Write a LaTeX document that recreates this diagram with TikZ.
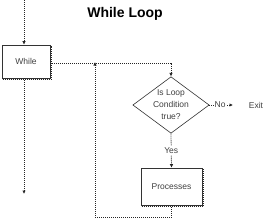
\documentclass[tikz,border=0pt]{standalone}
\usepackage{fontspec}
\setmainfont{Liberation Sans}
\usetikzlibrary{arrows.meta,shapes.geometric}
\begin{document}
\begin{tikzpicture}[x=1pt,y=-1pt,
  conn/.style={line width=0.8pt,dash pattern=on 1pt off 1pt,draw=black!85},
  arr/.style={conn,-{Latex[length=3.5pt,width=3.5pt]}},
  procbox/.style={draw=black!80,line width=0.6pt,fill=white,minimum width=48pt,minimum height=33pt,inner sep=0pt,font=\fontsize{8.5}{10}\selectfont,text=black!75},
  txt/.style={inner sep=1pt,font=\fontsize{8.5}{10}\selectfont,text=black!75}]
\useasboundingbox (0,0) rectangle (278,218);
% title
\node[font=\fontsize{14}{16}\selectfont\bfseries] (title) at (125,14) {While Loop};
% boxes
\node[procbox] (while) at (26,61.5) {While};
\node[procbox,minimum width=61pt,minimum height=37pt] (proc) at (171.5,186.5) {Processes};
\draw[conn] ([xshift=1pt,yshift=-1pt]while.south west) -- ([xshift=1pt,yshift=-1pt]while.south east) -- ([xshift=1pt,yshift=-1pt]while.north east);
\draw[conn] ([xshift=1pt,yshift=-1pt]proc.south west) -- ([xshift=1pt,yshift=-1pt]proc.south east) -- ([xshift=1pt,yshift=-1pt]proc.north east);
% diamond
\node[diamond,draw=black!80,line width=0.6pt,minimum width=74pt,minimum height=56pt,inner sep=0pt,aspect=1.35,align=center,font=\fontsize{8.5}{12}\selectfont,text=black!75] (cond) at (171,105) {Is Loop\\Condition\\true?};
% coordinates
\coordinate (top) at (24,0);
\coordinate (corner) at (171,63);
\coordinate (loopjoin) at (95,63);
\coordinate (exitend) at (233,105);
\coordinate (downend) at (24,194);
\node[txt] (exit) at (256,105) {Exit};
% connectors
\draw[arr] (top) -- (top |- while.north);
\draw[arr] (while.east |- corner) -- (corner) -- (cond.north);
\draw[arr] (cond.south) -- node[txt,fill=white,inner sep=1.5pt] (yes) {Yes} (proc.north);
\draw[arr] (proc.south) -- ++(0,12) -| ([yshift=1pt]loopjoin);
\draw[arr] (top |- while.south) -- (downend);
\draw[arr] (cond.east) -- node[txt,fill=white,inner sep=1pt,pos=0.45] (no) {No} (exitend);
\end{tikzpicture}
\end{document}
